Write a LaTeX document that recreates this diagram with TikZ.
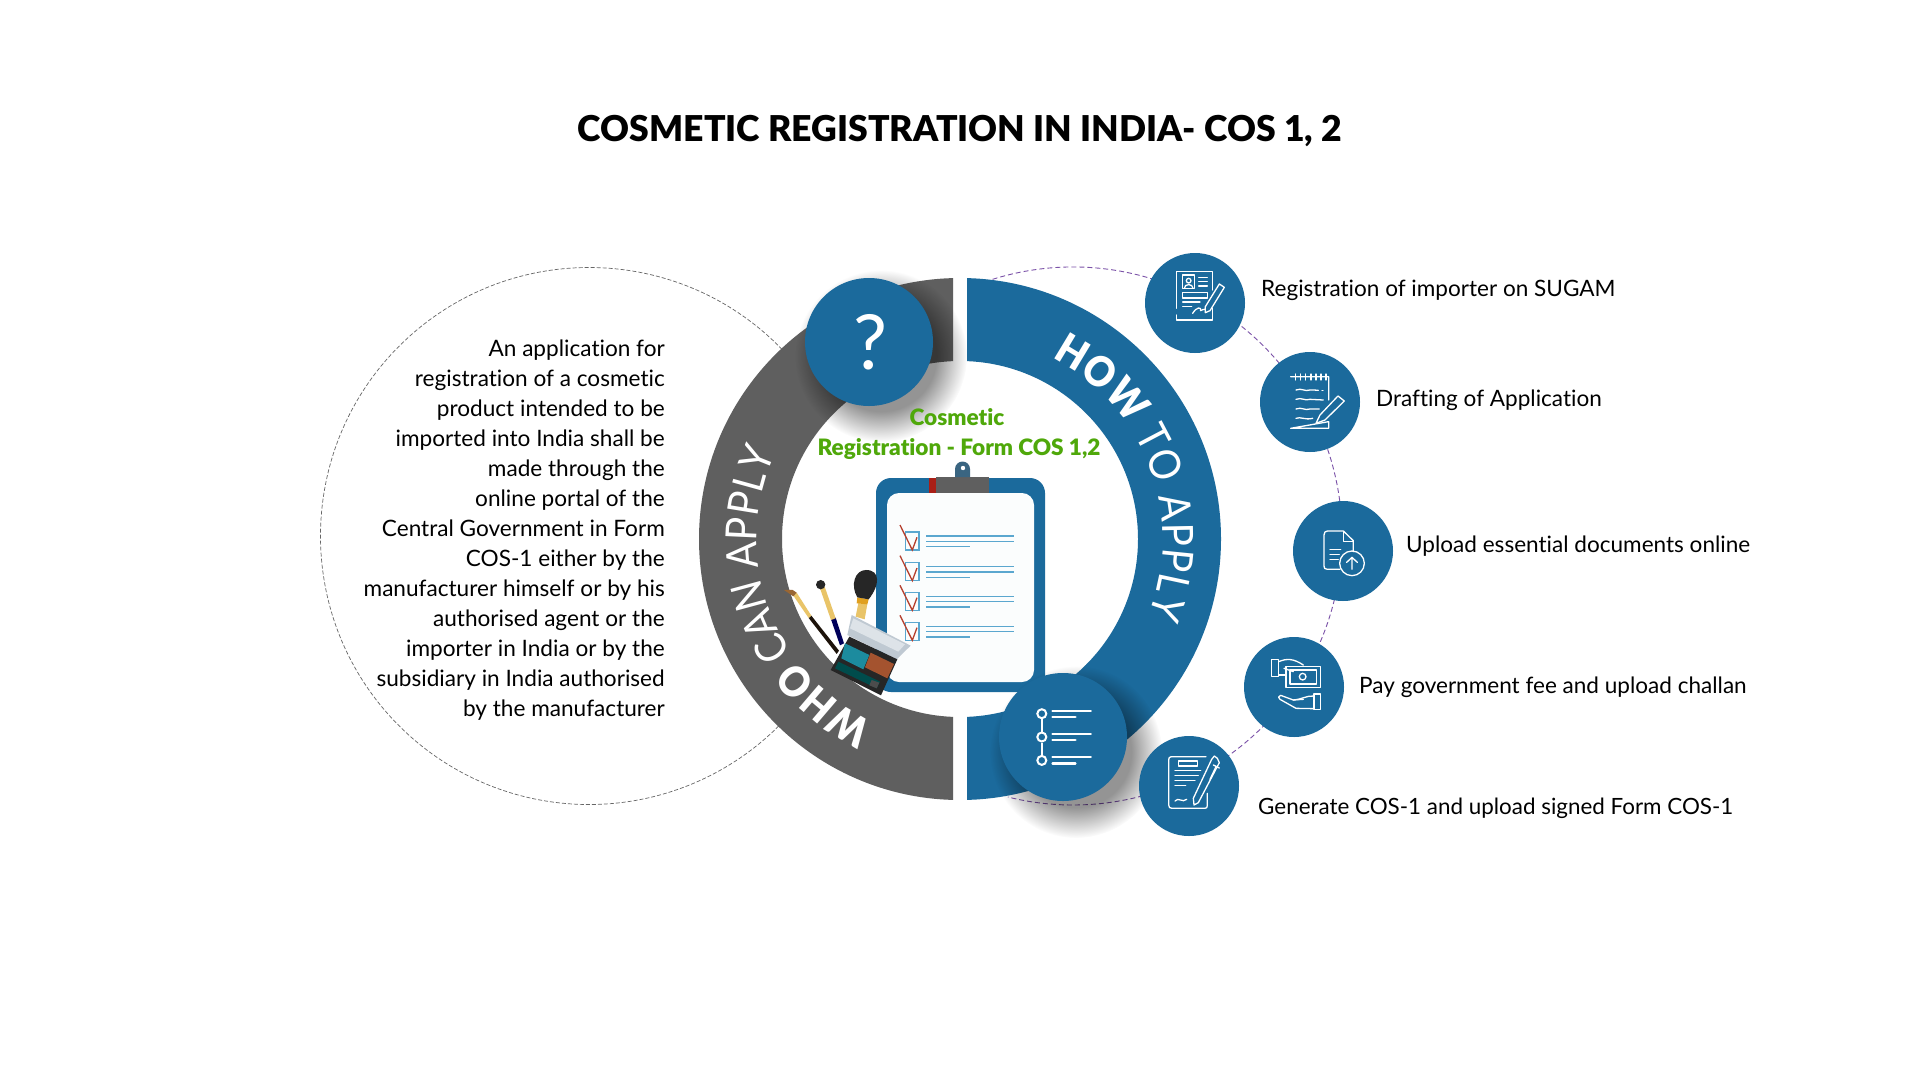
\documentclass[tikz,border=0pt]{standalone}
\usepackage{fontspec}
\setmainfont[Ligatures=CommonOff]{Lato}
\newfontfamily\ringfont[Ligatures=CommonOff,FakeStretch=.9]{Lato}
\newfontfamily\heavyring[Ligatures=CommonOff,FakeStretch=.9]{Lato Black}
\newfontfamily\heavyfont[Ligatures=CommonOff]{Lato Black}
\usetikzlibrary{decorations.text,fadings,shapes.geometric}
\definecolor{mainblue}{HTML}{1B6A9C}
\definecolor{ringgray}{HTML}{5F5F5F}
\definecolor{leafgreen}{HTML}{4FA80A}
\definecolor{dashpurple}{HTML}{7B52A8}
\definecolor{tickblue}{HTML}{5BA7CF}
\definecolor{tickred}{HTML}{B5402E}
\definecolor{pagewhite}{HTML}{FBFDFD}
\definecolor{brushgold}{HTML}{E9C468}
\definecolor{bandgold}{HTML}{E0A020}
\definecolor{wellteal}{HTML}{1C8B9E}
\definecolor{wellbrown}{HTML}{A4532F}
\definecolor{lidgray}{HTML}{BFC9D2}
\definecolor{lidlight}{HTML}{DDE3E8}
\pgfdeclareradialshading{softsh}{\pgfpointorigin}{color(0bp)=(black!58); color(16bp)=(black!58); color(25bp)=(black); color(50bp)=(black)}
\pgfdeclarefading{softc}{\pgfuseshading{softsh}}
\newcommand{\ringbold}{\fontsize{42}{42}\selectfont\heavyring\color{white}}
\newcommand{\ringlight}{\fontsize{43}{43}\selectfont\ringfont\color{white}}
\tikzset{
  bubble/.style={circle,fill=mainblue,inner sep=0pt,minimum size=100pt},
  bigbubble/.style={circle,fill=mainblue,inner sep=0pt,minimum size=128pt},
  softshadow/.style={black,path fading=softc,fit fading=true},
  icon/.style={draw=white,line width=1.3pt,line cap=round,line join=round,fill=none},
  penfill/.style={draw=white,fill=mainblue,line width=1.3pt,line join=round},
  label/.style={anchor=base west,inner sep=0pt,font=\fontsize{22.55}{30}\selectfont},
  zoomB/.style={shift={(1130,240)},x=.3333pt,y=-.3333pt},
  zoomC/.style={shift={(1130,620)},x=.3333pt,y=-.3333pt},
  zoomD/.style={shift={(770,460)},x=.3333pt,y=-.3333pt},
  zoomE/.style={shift={(1290,500)},x=.3333pt,y=-.3333pt},
  tickline/.style={draw=tickblue,line width=1.3pt},
  tickbox/.style={draw=tickblue,line width=1.3pt,fill=pagewhite},
  tickmark/.style={draw=tickred,line width=1.3pt,line join=miter},
}
\begin{document}
\begin{tikzpicture}[x=1pt,y=-1pt]
\useasboundingbox (0,0) rectangle (1920,1080);
\fill[white] (0,0) rectangle (1920,1080);
\coordinate (ringc) at (960,539);
\coordinate (leftc) at (589,536);
\coordinate (rightc) at (1073,536);

% dashed guide circles
\draw[gray!80!black,line width=.7pt,dash pattern=on 4pt off 2pt] (leftc) ++(-44:268.5) arc (-44:-316:268.5);
\draw[dashpurple,line width=.9pt,dash pattern=on 5pt off 3pt] (rightc) ++(-107.4:269) arc (-107.4:104:269);

% ring halves
\begin{scope}
\clip (600,260) rectangle (953,820);
\fill[ringgray,even odd rule] (ringc) circle (261) (ringc) circle (178);
\end{scope}
\begin{scope}
\clip (967,260) rectangle (1300,820);
\fill[mainblue,even odd rule] (ringc) circle (261) (ringc) circle (178);
\end{scope}

% curved labels
\path[decorate,decoration={text along path,text align={fit to path},
  text={|\ringbold|WHO |\ringlight|CAN APPLY}}]
  (ringc) ++(115:203) arc (115:205:203);
\path[decorate,decoration={text along path,text align={fit to path},
  text={|\ringbold|HOW |\ringlight|TO APPLY}}]
  (ringc) ++(-63:203) arc (-63:22:203);

% clipboard
\fill[mainblue,rounded corners=15pt] (876,478) rectangle (1045,692);
\fill[pagewhite,rounded corners=12pt] (887,493) rectangle (1034,682);
\fill[tickred!60!red!80!black] (929,478) rectangle (936,493);
\fill[ringgray] (936,477) rectangle (989,493);
\fill[mainblue!55!ringgray] (955,477) -- (955,469) arc (180:360:7.5) -- (970,477) -- cycle;
\fill[white] (963,468) circle (2.2);

\begin{scope}[zoomD]
  \foreach \yy in {0,92,181,271}{
    \draw[tickbox] (406,216+\yy) rectangle (447,270+\yy);
    \draw[tickmark] (390,195+\yy) -- (427,270+\yy) -- (441,232+\yy);
    \draw[tickline] (469,228+\yy) -- (732,228+\yy);
    \draw[tickline] (469,244+\yy) -- (732,244+\yy);
    \draw[tickline] (469,260+\yy) -- (601,260+\yy);
  }
  % brushes
  \fill[black!85!brown] (116,474) -- (124,467) -- (207,572) -- (200,582) -- cycle;
  \fill[brushgold] (70,407) -- (80,398) -- (124,467) -- (116,474) -- cycle;
  \fill[brown!80!black] (42,390) -- (68,390) -- (80,398) -- (70,409) -- cycle;
  \fill[blue!35!black] (183,478) -- (197,473) -- (222,550) -- (210,556) -- cycle;
  \fill[brushgold] (150,385) -- (164,380) -- (197,475) -- (183,480) -- cycle;
  \fill[black!85] (152,374) circle (14);
  \fill[brushgold] (265,430) -- (292,432) -- (284,478) -- (257,470) -- cycle;
  \fill[bandgold] (262,412) -- (296,418) -- (292,433) -- (260,430) -- cycle;
  \fill[black!85] (262,412) .. controls (240,375) and (255,330) .. (288,330) .. controls (332,330) and (330,375) .. (296,418) -- cycle;
  % palette
  \fill[lidgray] (245,465) -- (422,557) -- (380,598) -- (232,525) -- cycle;
  \fill[lidlight] (250,475) -- (405,553) -- (385,575) -- (240,505) -- cycle;
  \fill[black!85] (238,530) -- (382,598) -- (333,706) -- (182,630) -- cycle;
  \fill[wellteal] (225,550) -- (298,585) -- (280,628) -- (214,595) -- cycle;
  \fill[wellbrown] (302,578) -- (372,612) -- (352,655) -- (285,622) -- cycle;
  \fill[teal!60!black] (205,605) -- (330,665) -- (320,685) -- (195,625) -- cycle;
  \fill[black!70] (305,660) -- (328,668) -- (320,685) -- (298,676) -- cycle;
\end{scope}

% shadows
\fill[softshadow] (881,356) circle (86);
\fill[softshadow] (1076,752) circle (86);

% main bubbles
\node[bigbubble] (ask) at (869,342) {};
\node[bigbubble] (steps) at (1063,737) {};
\node[text=white,inner sep=0pt,font=\fontsize{76}{76}\selectfont] (askmark) at (870,342) {?};

% list icon
\node[circle,draw=white,line width=2pt,inner sep=0pt,minimum size=9pt] (s1) at (1041.8,713.7) {};
\node[circle,draw=white,line width=2pt,inner sep=0pt,minimum size=9pt] (s2) at (1041.8,737) {};
\node[circle,draw=white,line width=2pt,inner sep=0pt,minimum size=9pt] (s3) at (1041.8,760.4) {};
\draw[white,line width=2pt] (s1) -- (s2);
\draw[white,line width=2pt] (s2) -- (s3);
\foreach \yy in {710.7,733.7,757}{
  \draw[white,line width=2.4pt,line cap=round] (1052.5,\yy) -- (1090.7,\yy);
  \draw[white,line width=2.4pt,line cap=round] (1052.5,\yy+6.3) -- (1075.4,\yy+6.3);
}

% step bubbles
\node[bubble] (st1) at (1195,303) {};
\node[bubble] (st2) at (1310,402) {};
\node[bubble] (st3) at (1343,551) {};
\node[bubble] (st4) at (1294,687) {};
\node[bubble] (st5) at (1189,786) {};

% icon 1
\begin{scope}[zoomB]
  \draw[icon] (139,205) -- (139,95) -- (248,95) -- (248,150);
  \draw[icon] (139,225) -- (139,240) -- (248,240) -- (248,205);
  \draw[icon] (158,105) rectangle (194,145);
  \draw[icon] (176,122) circle (7);
  \draw[icon] (163,145) .. controls (163,130) and (189,130) .. (189,145);
  \draw[icon] (206,112) -- (232,112) (206,125) -- (232,125) (206,138) -- (232,138);
  \draw[icon] (158,158) rectangle (232,174);
  \draw[icon] (158,186) -- (210,186) (158,199) -- (185,199);
  \draw[icon] (188,220) .. controls (200,200) and (215,200) .. (212,212) .. controls (222,205) and (228,210) .. (240,206);
  \draw[penfill] (268,132) -- (283,142) -- (240,212) -- (226,218) -- (226,200) -- cycle;
\end{scope}

% icon 2
\begin{scope}[zoomB]
  \draw[icon] (482,410) -- (596,410) -- (596,480) (596,545) -- (596,565) -- (482,565) -- cycle;
  \foreach \xx in {497,512,527,543,558,573,588}{\draw[icon] (\xx,402) -- (\xx,420);}
  \draw[icon] (498,450) .. controls (515,443) and (525,456) .. (540,450) .. controls (550,447) and (555,453) .. (565,451);
  \draw[icon] (576,452) -- (579,452);
  \draw[icon] (498,478) .. controls (515,471) and (525,484) .. (540,478) -- (580,480);
  \draw[icon] (498,507) .. controls (515,500) and (525,513) .. (540,507) -- (568,507);
  \draw[icon] (498,535) .. controls (512,529) and (525,541) .. (548,535);
  \draw[penfill] (624,468) -- (643,483) -- (585,540) -- (558,550) -- (570,525) -- cycle;
\end{scope}

% icon 3
\begin{scope}[zoomE]
  \draw[icon] (150,208) -- (112,208) .. controls (104,208) and (102,204) .. (102,198) -- (102,105) .. controls (102,97) and (106,93) .. (112,93) -- (160,93) -- (190,122) -- (190,155);
  \draw[icon] (160,95) -- (160,125) -- (190,125);
  \draw[icon] (120,148) -- (152,148) (120,163) -- (148,163) (120,178) -- (145,178);
  \draw[icon] (186,190) circle (37);
  \draw[icon] (186,208) -- (186,172) (170,187) -- (186,172) -- (202,187);
\end{scope}

% icon 4
\begin{scope}[zoomC]
  \draw[icon] (424,118) rectangle (446,170);
  \draw[icon] (446,125) .. controls (470,115) and (490,115) .. (520,135);
  \draw[icon] (446,165) -- (468,165);
  \draw[icon] (462,145) -- (490,155);
  \draw[icon] (468,140) rectangle (572,202);
  \draw[icon] (480,150) -- (560,150) -- (560,192) -- (480,192) -- cycle;
  \draw[icon] (518,170) circle (10);
  \draw[icon] (552,222) rectangle (572,268);
  \draw[icon] (552,228) .. controls (530,226) and (510,240) .. (490,240) -- (452,226) .. controls (445,228) and (443,234) .. (450,238) -- (498,265) -- (552,266);
  \draw[icon] (490,240) -- (520,238);
\end{scope}

% icon 5
\begin{scope}[zoomC]
  \draw[icon] (228,410) -- (124,410) .. controls (118,410) and (116,414) .. (116,420) -- (116,555) .. controls (116,562) and (120,565) .. (126,565) -- (225,565) .. controls (230,565) and (232,562) .. (232,556) -- (232,520);
  \draw[icon] (145,423) rectangle (203,438);
  \draw[icon] (135,452) -- (212,452) (135,467) -- (205,467) (135,481) -- (195,481) (135,496) -- (167,496);
  \draw[icon] (135,543) .. controls (145,530) and (158,550) .. (170,538);
  \draw[penfill] (245,418) -- (253,408) -- (262,415) -- (268,428) -- (205,548) -- (192,555) -- (190,535) -- cycle;
  \draw[icon] (250,435) -- (268,444) (258,440) -- (240,478);
\end{scope}

% texts
\node[anchor=center,inner sep=0pt,font=\fontsize{35.6}{40}\selectfont\heavyfont] (title) at (960,131.5) {COSMETIC REGISTRATION IN INDIA- COS 1, 2};
\node[inner sep=0pt,text=leafgreen,font=\fontsize{22.6}{30}\selectfont\heavyfont] (cen1) at (957,417) {Cosmetic};
\node[inner sep=0pt,text=leafgreen,font=\fontsize{22.6}{30}\selectfont\heavyfont] (cen2) at (959,449) {Registration - Form COS 1,2};
\node[anchor=east,align=right,inner sep=0pt,font=\fontsize{22.6}{30}\selectfont] (who) at (665,530) {An application for\\registration of a cosmetic\\product intended to be\\imported into India shall be\\made through the\\online portal of the\\Central Government in Form\\COS-1 either by the\\manufacturer himself or by his\\authorised agent or the\\importer in India or by the\\subsidiary in India authorised\\by the manufacturer};
\node[label] (t1) at (1261,296) {Registration of importer on SUGAM};
\node[label] (t2) at (1376,406) {Drafting of Application};
\node[label] (t3) at (1406,552) {Upload essential documents online};
\node[label] (t4) at (1359,693) {Pay government fee and upload challan};
\node[label,font=\fontsize{22.4}{30}\selectfont] (t5) at (1258,814) {Generate COS-1 and upload signed Form COS-1};
\end{tikzpicture}
\end{document}
